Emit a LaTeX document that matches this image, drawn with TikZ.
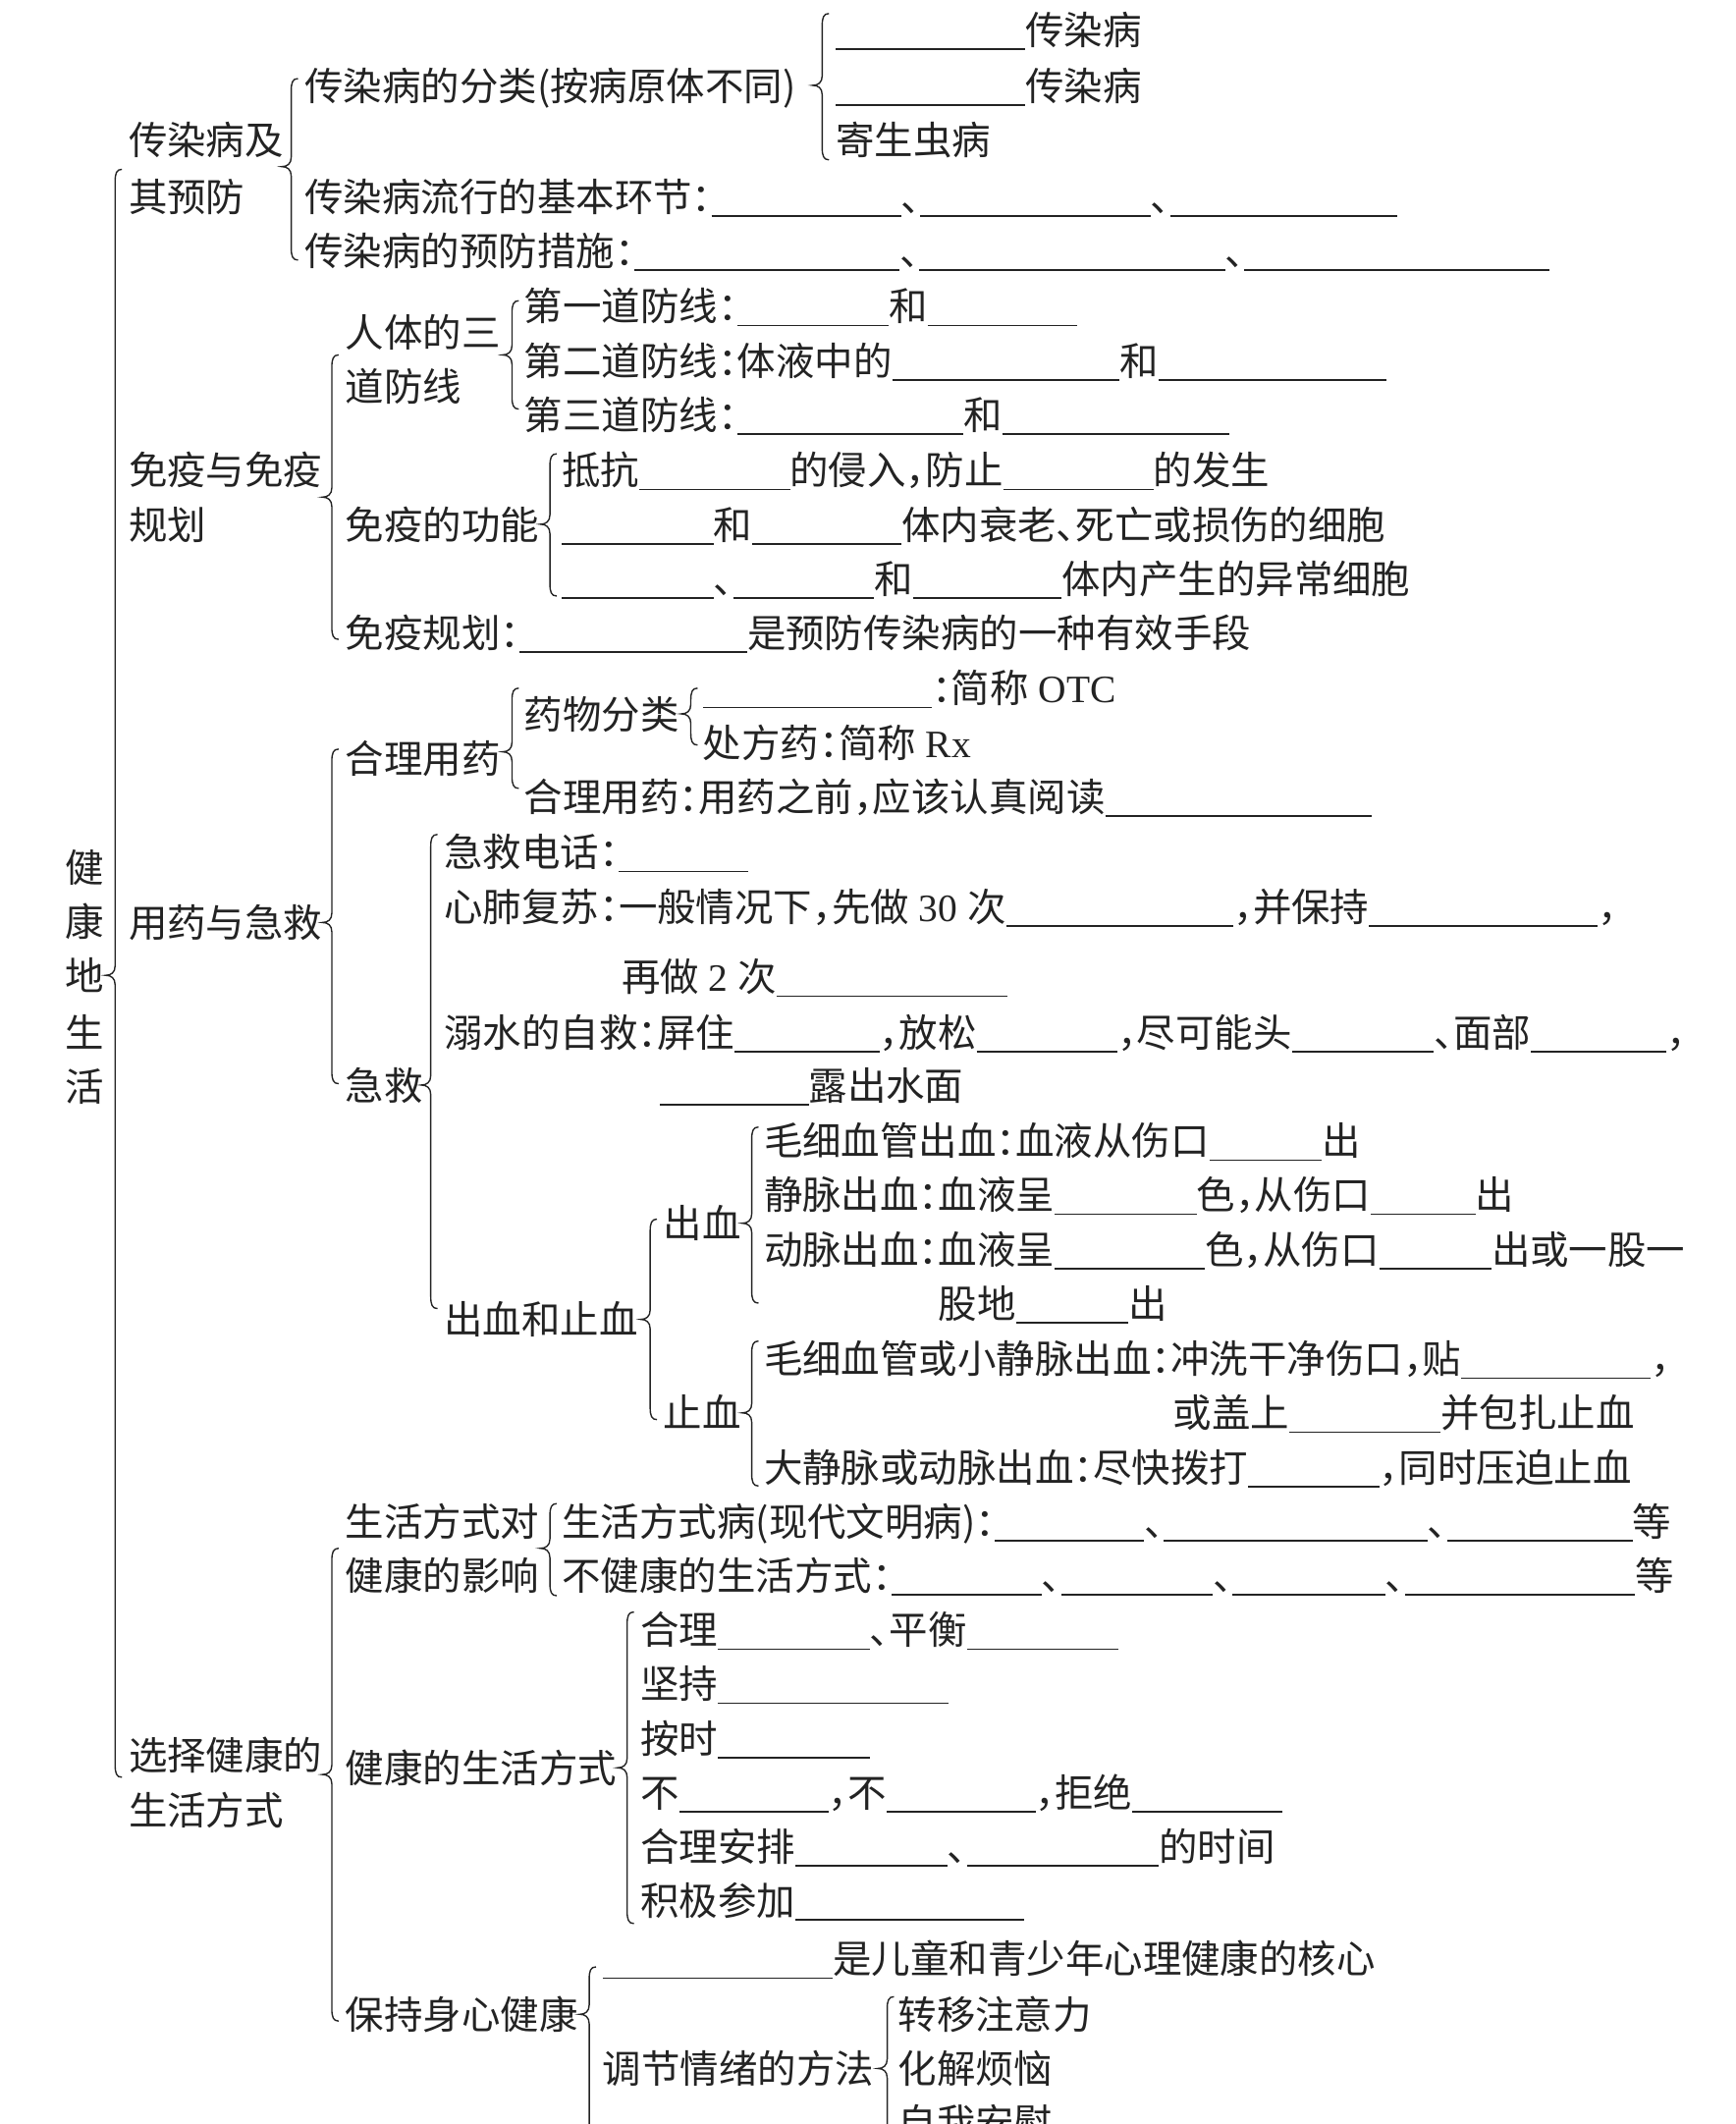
\documentclass[tikz,border=0pt]{standalone}
\usepackage{fontspec}
\setmainfont{Noto Sans CJK SC}
\newfontfamily\lat{Liberation Serif}
\newlength\ux \setlength\ux{0.5pt}
\newcommand\bl[1]{\rule[-2pt]{#1\ux}{0.6pt}}
\newcommand\cc{：\kern-.5em}
\newcommand\cm{，\kern-.5em}
\newcommand\dn{、\kern-.5em}
\definecolor{ink}{RGB}{35,35,35}
\tikzset{
  txt/.style={anchor=base west,inner sep=0pt,outer sep=0pt,text=ink,font=\fontsize{14.3pt}{17pt}\selectfont},
  bracestyle/.style={draw=ink,line width=0.5pt}
}
\newcommand\T[4]{\node[txt] (#1) at (#2,#3+11) {#4};}
\newcommand\brc[4]{\draw[bracestyle] (#1+5,#2) .. controls (#1+1,#2) and (#1,#2+3) .. (#1,#2+9) -- (#1,#3-7) .. controls (#1,#3-2) and (#1-3,#3) .. (#1-7,#3) .. controls (#1-3,#3) and (#1,#3+2) .. (#1,#3+7) -- (#1,#4-9) .. controls (#1,#4-3) and (#1+1,#4) .. (#1+5,#4);}
\begin{document}
\begin{tikzpicture}[x=0.5pt,y=-0.5pt]
\fill[white] (0,0) rectangle (1281,1568);
\useasboundingbox (0,0) rectangle (1281,1568);
% root
\T{r1}{48}{640}{健}
\T{r2}{48}{680}{康}
\T{r3}{48}{720}{地}
\T{r4}{48}{762}{生}
\T{r5}{48}{802}{活}
\brc{85}{125}{720}{1312}
% level 1
\T{a1}{95}{103}{传染病及}
\T{a2}{95}{145}{其预防}
\T{b1}{95}{347}{免疫与免疫}
\T{b2}{95}{387}{规划}
\T{c1}{95}{681}{用药与急救}
\T{d1}{95}{1296}{选择健康的}
\T{d2}{95}{1336}{生活方式}
% 传染病
\brc{215}{58}{123}{192}
\T{a11}{225}{63}{传染病的分类(按病原体不同)}
\brc{607}{10}{63}{118}
\T{a111}{617}{22}{\bl{140}传染病}
\T{a112}{617}{63}{\bl{140}传染病}
\T{a113}{617}{103}{寄生虫病}
\T{a12}{225}{145}{传染病流行的基本环节\cc\bl{140}\dn\bl{170}\dn\bl{168}}
\T{a13}{225}{185}{传染病的预防措施\cc\bl{196}\dn\bl{226}\dn\bl{225}}
% 免疫
\brc{245}{262}{367}{472}
\T{b11}{255}{245}{人体的三}
\T{b12}{255}{285}{道防线}
\brc{378}{222}{262}{302}
\T{b111}{387}{226}{第一道防线\cc\bl{112}和\bl{110}}
\T{b112}{387}{266}{第二道防线\cc 体液中的\bl{168}和\bl{168}}
\T{b113}{387}{306}{第三道防线\cc\bl{167}和\bl{168}}
\T{b13}{255}{387}{免疫的功能}
\brc{406}{335}{387}{440}
\T{b131}{415}{347}{抵抗\bl{111}的侵入\cm 防止\bl{111}的发生}
\T{b132}{415}{387}{\bl{112}和\bl{110}体内衰老\dn 死亡或损伤的细胞}
\T{b133}{415}{427}{\bl{112}\dn\bl{104}和\bl{110}体内产生的异常细胞}
\T{b14}{255}{467}{免疫规划\cc\bl{168}是预防传染病的一种有效手段}
% 用药与急救
\brc{245}{553}{681}{800}
\T{c11}{255}{560}{合理用药}
\brc{378}{508}{555}{582}
\T{c111}{387}{527}{药物分类}
\brc{510}{508}{527}{550}
\T{c1111}{519}{508}{\bl{169}\cc 简称{\lat\ OTC}}
\T{c1112}{519}{548}{处方药\cc 简称{\lat\ Rx}}
\T{c112}{387}{588}{合理用药\cc 用药之前\cm 应该认真阅读\bl{197}}
\T{c12}{255}{801}{急救}
\brc{318}{616}{801}{966}
\T{c121}{328}{629}{急救电话\cc\bl{96}}
\T{c122}{328}{669}{心肺复苏\cc 一般情况下\cm 先做{\lat\ 30\ }次\bl{168}\cm 并保持\bl{169}，}
\T{c122b}{459}{721}{再做{\lat\ 2\ }次\bl{170}}
\T{c123}{328}{762}{溺水的自救\cc 屏住\bl{107}\cm 放松\bl{104}\cm 尽可能头\bl{105}\dn 面部\bl{100}，}
\T{c123b}{487}{801}{\bl{110}露出水面}
\T{c124}{328}{974}{出血和止血}
\brc{480}{900}{974}{1048}
\T{c1241}{490}{903}{出血}
\brc{555}{832}{903}{962}
\T{e1}{564}{842}{毛细血管出血\cc 血液从伤口\bl{83}出}
\T{e2}{564}{882}{静脉出血\cc 血液呈\bl{105}色\cm 从伤口\bl{77}出}
\T{e3}{564}{922}{动脉出血\cc 血液呈\bl{111}色\cm 从伤口\bl{83}出或一股一}
\T{e3b}{693}{962}{股地\bl{83}出}
\T{c1242}{490}{1043}{止血}
\brc{555}{990}{1043}{1097}
\T{f1}{564}{1003}{毛细血管或小静脉出血\cc 冲洗干净伤口\cm 贴\bl{140}，}
\T{f1b}{866}{1043}{或盖上\bl{112}并包扎止血}
\T{f2}{564}{1083}{大静脉或动脉出血\cc 尽快拨打\bl{97}\cm 同时压迫止血}
% 选择健康的生活方式
\brc{245}{1143}{1310}{1492}
\T{d11}{255}{1123}{生活方式对}
\T{d12}{255}{1163}{健康的影响}
\brc{406}{1110}{1143}{1178}
\T{d111}{415}{1123}{生活方式病(现代文明病)\cc\bl{110}\dn\bl{195}\dn\bl{137}等}
\T{d112}{415}{1163}{不健康的生活方式\cc\bl{111}\dn\bl{112}\dn\bl{113}\dn\bl{170}等}
\T{d13}{255}{1305}{健康的生活方式}
\brc{463}{1190}{1305}{1420}
\T{d131}{473}{1203}{合理\bl{112}\dn 平衡\bl{112}}
\T{d132}{473}{1243}{坚持\bl{170}}
\T{d133}{473}{1283}{按时\bl{112}}
\T{d134}{473}{1323}{不\bl{110}\cm 不\bl{110}\cm 拒绝\bl{111}}
\T{d135}{473}{1363}{合理安排\bl{112}\dn\bl{142}的时间}
\T{d136}{473}{1403}{积极参加\bl{169}}
\T{d14}{255}{1487}{保持身心健康}
\brc{435}{1452}{1487}{1640}
\T{d141}{445}{1446}{\bl{170}是儿童和青少年心理健康的核心}
\T{d142}{445}{1527}{调节情绪的方法}
\brc{655}{1474}{1527}{1640}
\T{d1421}{663}{1487}{转移注意力}
\T{d1422}{663}{1527}{化解烦恼}
\T{d1423}{663}{1567}{自我安慰}
\end{tikzpicture}
\end{document}
